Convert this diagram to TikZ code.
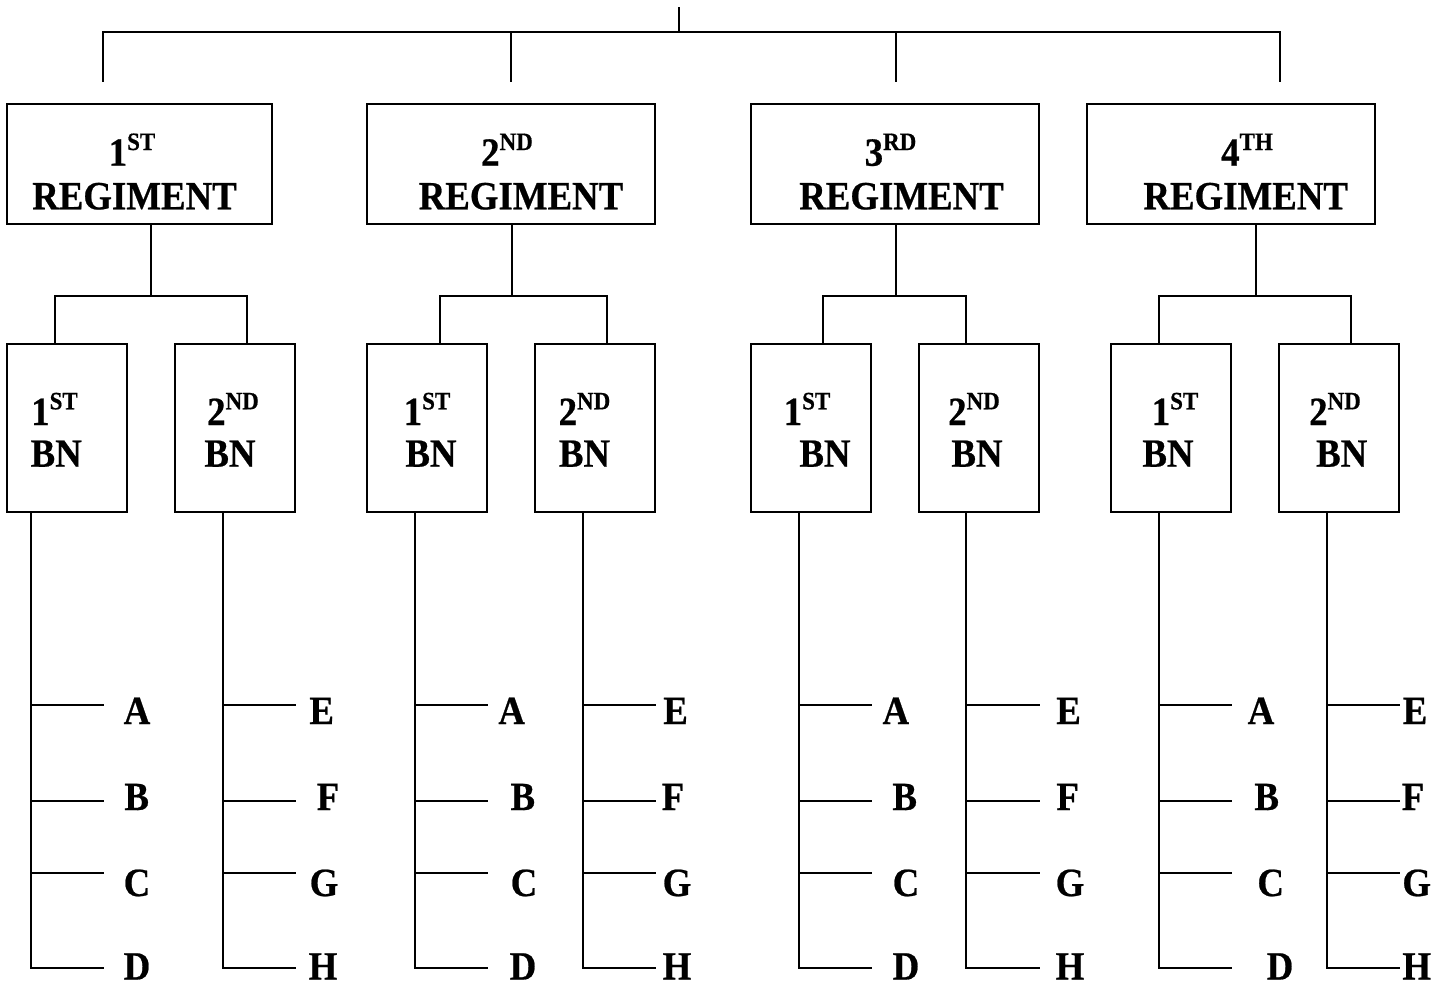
\documentclass[tikz,border=0pt]{standalone}
\usepackage{fontspec}
\newfontfamily\orgfont{Liberation Serif Bold}[FakeStretch=0.92, FakeBold=0.6]
\newcommand{\ordsup}[2]{#1\raisebox{15.7pt}{\fontsize{25pt}{25pt}\selectfont #2}}
\tikzset{
  box/.style={draw, line width=2pt, inner sep=0pt, outer sep=0pt},
  regbox/.style={box, minimum width=288pt, minimum height=120pt},
  bnbox/.style={box, minimum width=120pt, minimum height=168pt},
  txt/.style={anchor=base, inner sep=0pt, font=\orgfont\fontsize{40pt}{40pt}\selectfont},
  wire/.style={line width=2pt, line cap=rect},
}
\begin{document}
\begin{tikzpicture}[x=1pt,y=-1pt]
\useasboundingbox (0,0) rectangle (1447,985);
% regiment boxes
\node[regbox, minimum width=265pt] (r1) at (139.2,164.3) {};
\node[regbox] (r2) at (511,164.3) {};
\node[regbox] (r3) at (895,164.3) {};
\node[regbox] (r4) at (1231,164.3) {};
% regiment texts
\node[txt] (r1a) at (132,165.7) {\ordsup{1}{ST}};
\node[txt] (r1b) at (134.5,209.3) {REGIMENT};
\node[txt] (r2a) at (507,165.7) {\ordsup{2}{ND}};
\node[txt] (r2b) at (521,209.3) {REGIMENT};
\node[txt] (r3a) at (890.5,165.7) {\ordsup{3}{RD}};
\node[txt] (r3b) at (901.5,209.3) {REGIMENT};
\node[txt] (r4a) at (1247,165.7) {\ordsup{4}{TH}};
\node[txt] (r4b) at (1245.7,209.3) {REGIMENT};
% battalion boxes
\node[bnbox] (b11) at (67,428.3) {};
\node[bnbox] (b12) at (235,428.3) {};
\node[bnbox] (b21) at (427,428.3) {};
\node[bnbox] (b22) at (595,428.3) {};
\node[bnbox] (b31) at (811,428.3) {};
\node[bnbox] (b32) at (979,428.3) {};
\node[bnbox] (b41) at (1171,428.3) {};
\node[bnbox] (b42) at (1339,428.3) {};
% battalion texts
\node[txt] (t11a) at (54.5,425) {\ordsup{1}{ST}};
\node[txt] (t11b) at (56.2,466.7) {BN};
\node[txt] (t12a) at (233,425) {\ordsup{2}{ND}};
\node[txt] (t12b) at (230,466.7) {BN};
\node[txt] (t21a) at (427,425) {\ordsup{1}{ST}};
\node[txt] (t21b) at (431,466.7) {BN};
\node[txt] (t22a) at (584.5,425) {\ordsup{2}{ND}};
\node[txt] (t22b) at (584.5,466.7) {BN};
\node[txt] (t31a) at (807,425) {\ordsup{1}{ST}};
\node[txt] (t31b) at (825,466.7) {BN};
\node[txt] (t32a) at (974,425) {\ordsup{2}{ND}};
\node[txt] (t32b) at (977,466.7) {BN};
\node[txt] (t41a) at (1175,425) {\ordsup{1}{ST}};
\node[txt] (t41b) at (1168,466.7) {BN};
\node[txt] (t42a) at (1335,425) {\ordsup{2}{ND}};
\node[txt] (t42b) at (1341.7,466.7) {BN};
% top connectors
\coordinate (top) at (679,8);
\coordinate (hub) at (679,32);
\draw[wire] (top) -- (hub);
\draw[wire] (102.7,80.5) |- (hub) -| (1279.5,80.5);
\draw[wire] (511,32) -- (511,80.5);
\draw[wire] (895.8,32) -- (895.8,80.5);
% regiment to battalion connectors
\foreach \r/\x/\l/\rr/\bl/\br in {r1/151/55/247/b11/b12, r2/511.5/439.7/607/b21/b22, r3/895.8/823/966.3/b31/b32, r4/1255.6/1159.3/1351/b41/b42}{
  \draw[wire] (\r.south -| \x,0) -- (\x,296);
  \draw[wire] (\bl.north -| \l,0) |- (\x,296) -| (\br.north -| \rr,0);
}
% battalion to company lines and labels
\foreach \b/\x/\e/\lA/\lB/\lC/\lD/\nA/\nB/\nC/\nD in {
  b11/31/103/137/136.7/137/137/A/B/C/D,
  b12/222.7/295/321.7/328/324/323/E/F/G/H,
  b21/415.2/487/511.7/522.8/524/523/A/B/C/D,
  b22/582.5/655/675.6/673/677/677/E/F/G/H,
  b31/799/871/895.8/904.7/906/906/A/B/C/D,
  b32/966.3/1039/1068.6/1067.7/1070/1070/E/F/G/H,
  b41/1159.3/1231/1261/1266.7/1270.7/1280/A/B/C/D,
  b42/1327/1399/1415/1413/1416.7/1416.7/E/F/G/H}{
  \coordinate (\b-end) at (\e,968);
  \draw[wire] (\b.south -| \x,0) |- (\b-end);
  \draw[wire] (\x,704.7) -- (\e,704.7);
  \draw[wire] (\x,800.7) -- (\e,800.7);
  \draw[wire] (\x,872.7) -- (\e,872.7);
  \node[txt] (\b-1) at (\lA,724) {\nA};
  \node[txt] (\b-2) at (\lB,810) {\nB};
  \node[txt] (\b-3) at (\lC,896) {\nC};
  \node[txt] (\b-4) at (\lD,979.5) {\nD};
}
\end{tikzpicture}
\end{document}
